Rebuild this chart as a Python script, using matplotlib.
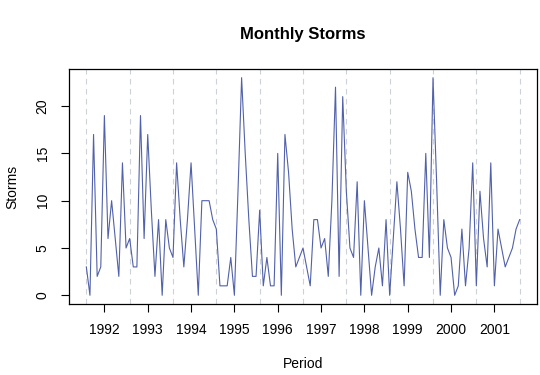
import numpy as np
import matplotlib
matplotlib.use("Agg")
import matplotlib.pyplot as plt

plt.rcParams['font.family'] = ['Liberation Sans', 'DejaVu Sans']

# monthly storm counts, Aug 1991 - Aug 2001
storms = [3, 0, 17, 2, 3, 19, 6, 10, 6, 2, 14, 5,
          6, 3, 3, 19, 6, 17, 9, 2, 8, 0, 8, 5,
          4, 14, 8, 3, 8, 14, 7, 0, 10, 10, 10, 8,
          7, 1, 1, 1, 4, 0, 11, 23, 15, 8, 2, 2,
          9, 1, 4, 1, 1, 15, 0, 17, 13, 7, 3, 4,
          5, 3, 1, 8, 8, 5, 6, 2, 10, 22, 2, 21,
          11, 5, 4, 12, 0, 10, 5, 0, 3, 5, 1, 8,
          0, 6, 12, 7, 1, 13, 11, 7, 4, 4, 15, 4,
          23, 12, 0, 8, 5, 4, 0, 1, 7, 1, 5, 14,
          1, 11, 6, 3, 14, 1, 7, 5, 3, 4, 5, 7,
          8]
start = 1991 + 7 / 12
years = list(range(1992, 2002))
season_starts = [1991 + 7 / 12 + i for i in range(11)]

t = start + np.arange(len(storms)) / 12

fig = plt.figure(figsize=(5.4, 3.75), dpi=100)
ax = fig.add_axes([69 / 540, 1 - 304 / 375, (537 - 69) / 540, (304 - 69) / 375])

for v in season_starts:
    ax.axvline(v, color='#cdd2da', linewidth=0.8, linestyle=(0, (5, 4)), zorder=1)

ax.plot(t, storms, color='#5161aa', linewidth=0.8, zorder=2)

span = t[-1] - t[0]
ax.set_xlim(t[0] - 0.04 * span, t[-1] + 0.04 * span)
ax.set_ylim(-0.04 * 23, 23 + 0.04 * 23)

ax.set_xticks(years)
ax.set_xticklabels([str(y) for y in years])
ax.set_yticks([0, 5, 10, 15, 20])
ax.set_yticklabels(['0', '5', '10', '15', '20'], rotation=90, va='center')
ax.tick_params(direction='out', length=6, width=0.8, labelsize=10, pad=8, color='black')

for s in ax.spines.values():
    s.set_linewidth(0.9)

ax.set_ylabel('Storms', fontsize=10, labelpad=12)
fig.text(303 / 540, 1 - 364 / 375, 'Period', ha='center', va='center', fontsize=10)
fig.text(303 / 540, 1 - 35 / 375, 'Monthly Storms', ha='center', va='center',
         fontsize=12, fontweight='bold')

fig.savefig('out.png', dpi=100)
